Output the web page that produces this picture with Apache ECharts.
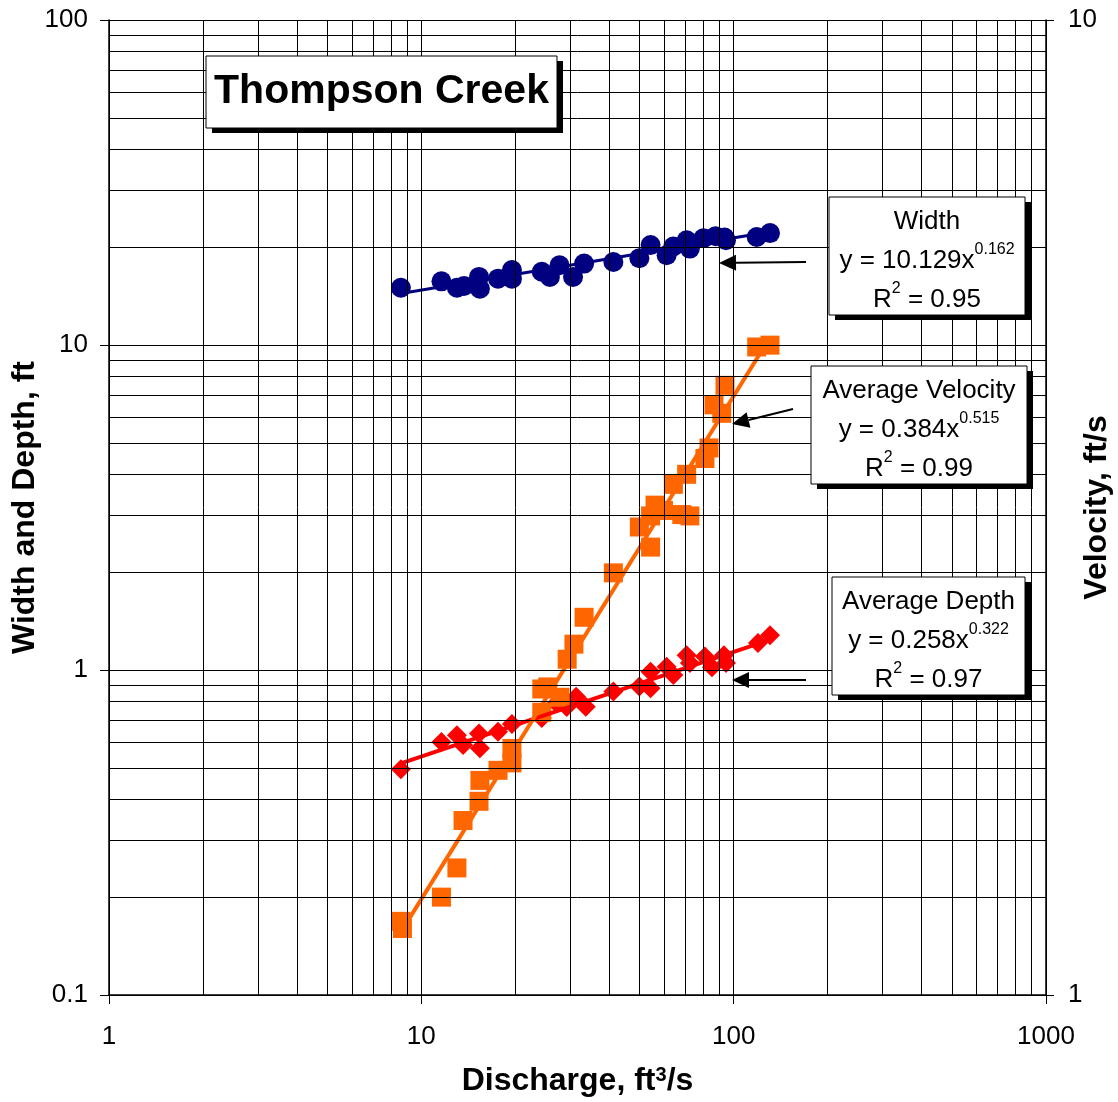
<!DOCTYPE html>
<html>
<head>
<meta charset="utf-8">
<title>Thompson Creek</title>
<script src="https://cdn.jsdelivr.net/npm/echarts@6/dist/echarts.min.js"></script>
<style>
html, body { margin: 0; padding: 0; background: #fff; }
#main { width: 1118px; height: 1102px; }
</style>
</head>
<body>
<div id="main"></div>
<script>
var widthQ  = [8.6, 11.6, 13.0, 13.7, 15.3, 15.4, 17.6, 19.5, 19.5, 24.3, 25.8, 27.7, 30.6, 33.2, 41.2, 49.9, 54.2, 61.0, 64.1, 70.7, 72.4, 80.0, 87.5, 93.5, 94.5, 118.5, 130.7];
var widthFt = [15.0, 15.7, 15.0, 15.2, 16.2, 14.9, 16.0, 17.0, 16.0, 16.8, 16.2, 17.6, 16.2, 17.8, 18.0, 18.5, 20.3, 18.9, 20.1, 21.0, 19.8, 21.3, 21.6, 21.4, 21.0, 21.5, 22.1];

var depthQ  = [8.6, 11.6, 13.0, 13.6, 15.3, 15.4, 17.6, 19.5, 24.3, 27.1, 29.2, 31.3, 33.6, 41.2, 49.9, 54.2, 54.2, 61.0, 64.1, 70.7, 72.4, 80.9, 85.2, 93.1, 94.5, 119.6, 130.7];
var depthFt = [0.495, 0.60, 0.63, 0.588, 0.638, 0.574, 0.646, 0.682, 0.712, 0.79, 0.77, 0.828, 0.771, 0.858, 0.889, 0.878, 0.988, 1.024, 0.966, 1.11, 1.05, 1.10, 1.02, 1.11, 1.05, 1.21, 1.28];

var velQ  = [8.6, 8.7, 11.6, 13.0, 13.6, 15.3, 15.4, 17.6, 19.5, 19.5, 24.3, 24.3, 25.4, 27.8, 29.3, 30.8, 33.2, 41.2, 49.9, 54.2, 54.2, 56.0, 59.6, 64.1, 68.2, 70.7, 72.4, 80.9, 83.4, 86.5, 91.6, 93.8, 118.5, 130.7];
var velFt = [1.19, 1.17, 1.26, 1.35, 1.51, 1.58, 1.66, 1.70, 1.73, 1.79, 1.95, 2.06, 2.07, 2.02, 2.21, 2.29, 2.44, 2.71, 3.02, 2.88, 3.10, 3.18, 3.14, 3.34, 3.11, 3.42, 3.10, 3.55, 3.64, 4.03, 3.95, 4.22, 4.62, 4.64];

// power-law trend lines, end points
var fitQ = [8.6, 131];
var widthFit = [14.4, 22.3];
var velFit = [1.16, 4.73];
var depthFit = [0.516, 1.24];

var xTicks = [1, 10, 100, 1000];
var leftTicks = [0.1, 1, 10, 100];
var rightTicks = [1, 10];

var FONT = 'Liberation Sans, Arial, sans-serif';

function pairs(xs, ys) {
    var out = [];
    for (var i = 0; i < xs.length; i++) out.push([xs[i], ys[i]]);
    return out;
}

// one grid line at every 1..9 step of each decade
function decadeLines(lo, hi) {
    var out = [];
    for (var d = lo; d < hi * 0.999; d *= 10) {
        for (var k = 1; k < 10; k++) out.push(+(d * k).toPrecision(3));
    }
    out.push(hi);
    return out;
}

var gridLines = [];
decadeLines(xTicks[0], xTicks[xTicks.length - 1]).forEach(function (v) { gridLines.push({xAxis: v}); });
decadeLines(leftTicks[0], leftTicks[leftTicks.length - 1]).forEach(function (v) { gridLines.push({yAxis: v}); });

function tickLabel(v) { return String(+(+v).toPrecision(3)); }

var axisLbl = {fontSize: 26, color: '#000', fontFamily: FONT, formatter: tickLabel};
var nameStyle = {fontSize: 32, fontWeight: 'bold', color: '#000', fontFamily: FONT};

var option = {
    animation: false,
    backgroundColor: '#fff',
    grid: {left: 109, right: 72, top: 20, bottom: 107, containLabel: false, outerBoundsMode: 'none'},
    xAxis: {
        type: 'log', logBase: 10, min: xTicks[0], max: xTicks[xTicks.length - 1],
        name: 'Discharge, ft{sup|3}/s', nameLocation: 'middle', nameGap: 70, nameMoveOverlap: false,
        nameTextStyle: Object.assign({
            rich: {
                sup: {fontSize: 20, fontWeight: 'bold', color: '#000', fontFamily: FONT, verticalAlign: 'top'}
            }
        }, nameStyle),
        axisLine: {lineStyle: {color: '#000', width: 1.5}},
        axisTick: {length: 9, lineStyle: {color: '#000'}},
        axisLabel: Object.assign({margin: 29}, axisLbl),
        splitLine: {show: false}
    },
    yAxis: [{
        type: 'log', logBase: 10, min: leftTicks[0], max: leftTicks[leftTicks.length - 1],
        name: 'Width and Depth, ft', nameLocation: 'middle', nameGap: 68, nameMoveOverlap: false,
        nameTextStyle: nameStyle,
        axisLine: {show: true, lineStyle: {color: '#000', width: 1.5}},
        axisTick: {length: 9, lineStyle: {color: '#000'}},
        axisLabel: Object.assign({margin: 21}, axisLbl),
        splitLine: {show: false}
    }, {
        type: 'log', logBase: 10, min: rightTicks[0], max: rightTicks[rightTicks.length - 1],
        position: 'right',
        name: 'Velocity, ft/s', nameLocation: 'middle', nameGap: 35, nameMoveOverlap: false,
        nameTextStyle: nameStyle,
        axisLine: {show: true, lineStyle: {color: '#000', width: 1.5}},
        axisTick: {length: 8, lineStyle: {color: '#000'}},
        axisLabel: Object.assign({margin: 22}, axisLbl),
        splitLine: {show: false}
    }],
    series: [
        {
            type: 'line', data: [], z: 1, silent: true,
            markLine: {
                silent: true, symbol: ['none', 'none'], animation: false,
                label: {show: false},
                lineStyle: {color: '#000', width: 1, type: 'solid'},
                emphasis: {disabled: true},
                data: gridLines
            }
        },
        {
            name: 'Width', type: 'scatter', yAxisIndex: 0, z: 3,
            symbol: 'circle', symbolSize: 20,
            itemStyle: {color: '#000080', opacity: 1},
            data: pairs(widthQ, widthFt)
        },
        {
            name: 'Average Depth', type: 'scatter', yAxisIndex: 0, z: 3,
            symbol: 'diamond', symbolSize: 20,
            itemStyle: {color: '#ff0000', opacity: 1},
            data: pairs(depthQ, depthFt)
        },
        {
            name: 'Average Velocity', type: 'scatter', yAxisIndex: 1, z: 3,
            symbol: 'rect', symbolSize: 19,
            itemStyle: {color: '#ff6600', opacity: 1},
            data: pairs(velQ, velFt)
        },
        {
            type: 'line', yAxisIndex: 0, z: 4, silent: true, symbol: 'none',
            lineStyle: {color: '#000080', width: 3},
            data: pairs(fitQ, widthFit)
        },
        {
            type: 'line', yAxisIndex: 0, z: 4, silent: true, symbol: 'none',
            lineStyle: {color: '#ff0000', width: 4},
            data: pairs(fitQ, depthFit)
        },
        {
            type: 'line', yAxisIndex: 1, z: 4, silent: true, symbol: 'none',
            lineStyle: {color: '#ff6600', width: 4},
            data: pairs(fitQ, velFit)
        }
    ],
    graphic: []
};

// boxed labels with a drop shadow
function box(x, y, w, h, text, fontSize, bold, lineHeight, dy) {
    option.graphic.push({type: 'rect', z: 100, shape: {x: x + 6, y: y + 5, width: w, height: h}, style: {fill: '#000'}});
    option.graphic.push({type: 'rect', z: 101, shape: {x: x, y: y, width: w, height: h}, style: {fill: '#fff', stroke: '#000', lineWidth: 1}});
    option.graphic.push({
        type: 'text', z: 102, x: x + w / 2, y: y + h / 2 + dy,
        style: {
            text: text, align: 'center', verticalAlign: 'middle',
            fontSize: fontSize, fontWeight: bold ? 'bold' : 'normal', fontFamily: FONT,
            fill: '#000', lineHeight: lineHeight,
            rich: {
                n: {fontSize: fontSize, fontFamily: FONT, lineHeight: lineHeight},
                sup: {fontSize: 16, fontFamily: FONT, verticalAlign: 'top', lineHeight: 18}
            }
        }
    });
}

function arrow(x1, y1, x2, y2) {
    var dx = x2 - x1, dy = y2 - y1, len = Math.sqrt(dx * dx + dy * dy);
    var ux = dx / len, uy = dy / len, hl = 17, hw = 8;
    var bx = x2 - ux * hl, by = y2 - uy * hl;
    option.graphic.push({type: 'line', z: 100, shape: {x1: x1, y1: y1, x2: bx, y2: by}, style: {stroke: '#000', lineWidth: 2}});
    option.graphic.push({type: 'polygon', z: 100, shape: {points: [[x2, y2], [bx - uy * hw, by + ux * hw], [bx + uy * hw, by - ux * hw]]}, style: {fill: '#000'}});
}

box(206, 56, 351, 72, 'Thompson Creek', 41, true, 48, 0);
box(829, 197, 196, 118, '{n|Width}\n{n|y = 10.129x}{sup|0.162}\n{n|R}{sup|2}{n| = 0.95}', 26, false, 39, 5);
box(811, 366, 216, 118, '{n|Average Velocity}\n{n|y = 0.384x}{sup|0.515}\n{n|R}{sup|2}{n| = 0.99}', 26, false, 39, 5);
box(832, 577, 193, 118, '{n|Average Depth}\n{n|y = 0.258x}{sup|0.322}\n{n|R}{sup|2}{n| = 0.97}', 26, false, 39, 5);

arrow(806, 262, 719, 263);
arrow(793, 409, 732, 424);
arrow(806, 680, 732, 680);

var chart = echarts.init(document.getElementById('main'));
chart.setOption(option);
</script>
</body>
</html>
